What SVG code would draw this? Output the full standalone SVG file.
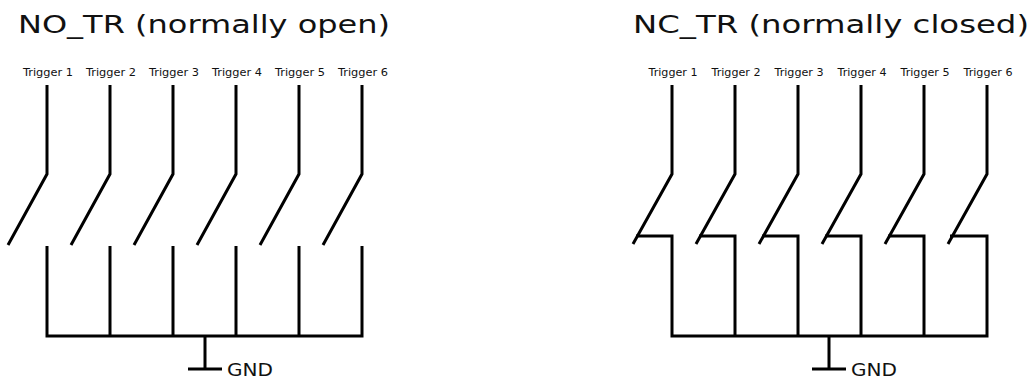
<svg xmlns="http://www.w3.org/2000/svg" width="1036" height="379" viewBox="0 0 1036 379">
<style>
.w{fill:none;stroke:#000;stroke-width:3;stroke-linecap:butt;stroke-linejoin:miter}
.t{font-family:"DejaVu Sans","Liberation Sans",sans-serif;fill:#111}
.title{font-size:24px}
.lbl{font-size:11px;text-anchor:middle}
.gnd{font-size:18px}
</style>
<rect width="1036" height="379" fill="#fff"/>
<g id="title-no"><text class="t title" x="18" y="33" textLength="372" lengthAdjust="spacingAndGlyphs">NO_TR (normally open)</text></g>
<g id="title-nc"><text class="t title" x="633" y="33" textLength="396" lengthAdjust="spacingAndGlyphs">NC_TR (normally closed)</text></g>

<g id="no-sw1"><text class="t lbl" x="48" y="76" textLength="50" lengthAdjust="spacingAndGlyphs">Trigger 1</text><path class="w" d="M47 85V174L8 245"/></g>
<g id="no-sw2"><text class="t lbl" x="111" y="76" textLength="50" lengthAdjust="spacingAndGlyphs">Trigger 2</text><path class="w" d="M110 85V174L71 245"/></g>
<g id="no-sw3"><text class="t lbl" x="174" y="76" textLength="50" lengthAdjust="spacingAndGlyphs">Trigger 3</text><path class="w" d="M173 85V174L134 245"/></g>
<g id="no-sw4"><text class="t lbl" x="237" y="76" textLength="50" lengthAdjust="spacingAndGlyphs">Trigger 4</text><path class="w" d="M236 85V174L197 245"/></g>
<g id="no-sw5"><text class="t lbl" x="300" y="76" textLength="50" lengthAdjust="spacingAndGlyphs">Trigger 5</text><path class="w" d="M299 85V174L260 245"/></g>
<g id="no-sw6"><text class="t lbl" x="363" y="76" textLength="50" lengthAdjust="spacingAndGlyphs">Trigger 6</text><path class="w" d="M362 85V174L323 245"/></g>

<g id="nc-sw1"><text class="t lbl" x="673" y="76" textLength="49" lengthAdjust="spacingAndGlyphs">Trigger 1</text><path class="w" d="M672 85V174L633 244"/></g>
<g id="nc-sw2"><text class="t lbl" x="736" y="76" textLength="49" lengthAdjust="spacingAndGlyphs">Trigger 2</text><path class="w" d="M735 85V174L696 244"/></g>
<g id="nc-sw3"><text class="t lbl" x="799" y="76" textLength="49" lengthAdjust="spacingAndGlyphs">Trigger 3</text><path class="w" d="M798 85V174L759 244"/></g>
<g id="nc-sw4"><text class="t lbl" x="862" y="76" textLength="49" lengthAdjust="spacingAndGlyphs">Trigger 4</text><path class="w" d="M861 85V174L822 244"/></g>
<g id="nc-sw5"><text class="t lbl" x="925" y="76" textLength="49" lengthAdjust="spacingAndGlyphs">Trigger 5</text><path class="w" d="M924 85V174L885 244"/></g>
<g id="nc-sw6"><text class="t lbl" x="988" y="76" textLength="49" lengthAdjust="spacingAndGlyphs">Trigger 6</text><path class="w" d="M987 85V174L948 244"/></g>

<g id="gnd-no"><path class="w" d="M205 336V369M188 369H222"/><text class="t gnd" x="227" y="376" textLength="46" lengthAdjust="spacingAndGlyphs">GND</text></g>
<g id="gnd-nc"><path class="w" d="M829 336V369M812 369H846"/><text class="t gnd" x="851" y="376" textLength="46" lengthAdjust="spacingAndGlyphs">GND</text></g>

<g id="connectors">
<path class="w" d="M47 246V336H362V246M110 246V336M173 246V336M236 246V336M299 246V336"/>
<path class="w" d="M636 236H672V336H987V236H950M699 236H735V336M762 236H798V336M825 236H861V336M888 236H924V336"/>
</g>
</svg>
